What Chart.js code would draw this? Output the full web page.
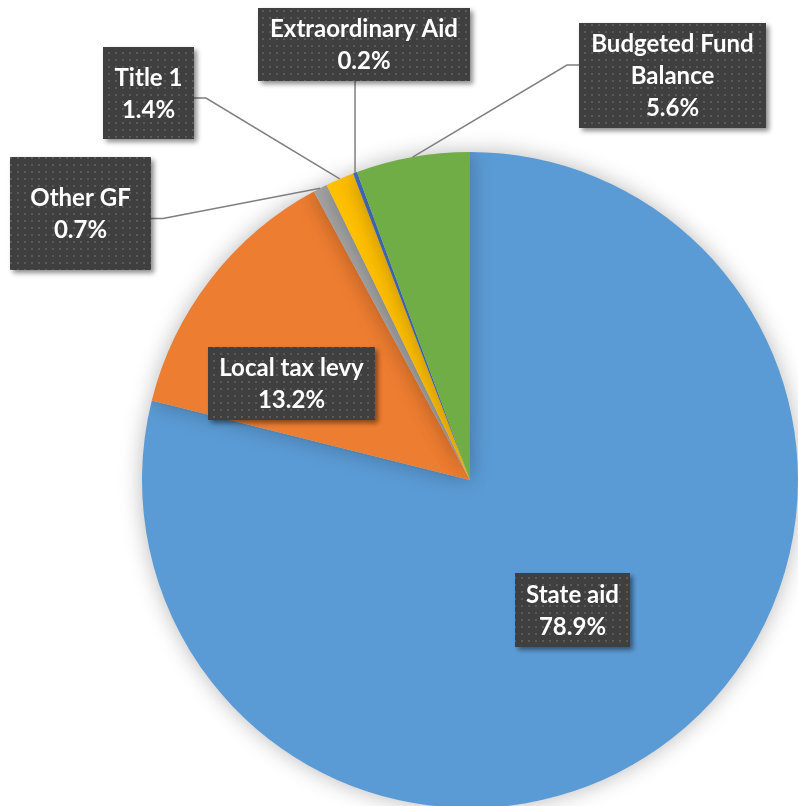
<!DOCTYPE html>
<html>
<head>
<meta charset="utf-8">
<script src="https://cdn.jsdelivr.net/npm/chart.js@4.4.1/dist/chart.umd.min.js"></script>
<style>
  html, body { margin: 0; padding: 0; background: #fff; overflow: hidden; }
  #wrap { position: relative; width: 798px; height: 812px; }
</style>
</head>
<body>
<div id="wrap"><canvas id="chart"></canvas></div>
<script>
// chart values
const categories = ['State aid', 'Local tax levy', 'Other GF', 'Title 1', 'Extraordinary Aid', 'Budgeted Fund Balance'];
const shares = [78.9, 13.2, 0.7, 1.4, 0.2, 5.6];
const sliceColors = ['#5B9BD5', '#ED7D31', '#A5A5A5', '#FFC000', '#4472C4', '#70AD47'];

// label boxes (text lines + where the box sits)
const labelLines = [
    ['State aid'],
    ['Local tax levy'],
    ['Other GF'],
    ['Title 1'],
    ['Extraordinary Aid'],
    ['Budgeted Fund', 'Balance']
];
const labelBoxes = [
    {x: 515, y: 573, w: 115, h: 74, leader: null},
    {x: 208, y: 347, w: 167, h: 73, leader: null},
    {x: 10,  y: 157, w: 141, h: 113, leader: 'right'},
    {x: 103, y: 47,  w: 91,  h: 92,  leader: 'right'},
    {x: 258, y: 8,   w: 212, h: 73,  leader: 'bottom'},
    {x: 579, y: 23,  w: 187, h: 105, leader: 'left'}
];

function makePattern(ctx) {
    const p = document.createElement('canvas');
    p.width = 7; p.height = 7;
    const c = p.getContext('2d');
    c.fillStyle = '#3f3f3f';
    c.fillRect(0, 0, 7, 7);
    c.fillStyle = '#5a5a5a';
    c.fillRect(3, 3, 2, 2);
    return ctx.createPattern(p, 'repeat');
}

const shadowPlugin = {
    id: 'pieShadow',
    beforeDatasetsDraw(chart) {
        const ctx = chart.ctx;
        ctx.save();
        ctx.shadowColor = 'rgba(0,0,0,0.28)';
        ctx.shadowBlur = 22;
    },
    afterDatasetsDraw(chart) {
        chart.ctx.restore();
    }
};

const boxLabels = {
    id: 'boxLabels',
    afterDraw(chart) {
        const ctx = chart.ctx;
        const arcs = chart.getDatasetMeta(0).data;
        const pattern = makePattern(ctx);

        // leader lines
        ctx.save();
        ctx.strokeStyle = '#7f7f7f';
        ctx.lineWidth = 1.5;
        arcs.forEach(function(a, i) {
            const b = labelBoxes[i];
            if (!b.leader) return;
            const mid = (a.startAngle + a.endAngle) / 2;
            const px = a.x + Math.cos(mid) * a.outerRadius;
            const py = a.y + Math.sin(mid) * a.outerRadius;
            ctx.beginPath();
            if (b.leader === 'right') {
                const ay = b.y + b.h / 2 + 5;
                ctx.moveTo(b.x + b.w, ay);
                ctx.lineTo(b.x + b.w + 12, ay);
                ctx.lineTo(px, py);
            } else if (b.leader === 'left') {
                const ay = b.y + 42;
                ctx.moveTo(b.x, ay);
                ctx.lineTo(b.x - 12, ay);
                ctx.lineTo(px, py);
            } else {
                ctx.moveTo(px, b.y + b.h);
                ctx.lineTo(px, py);
            }
            ctx.stroke();
        });
        ctx.restore();

        // boxes + text
        arcs.forEach(function(a, i) {
            const b = labelBoxes[i];
            ctx.save();
            ctx.shadowColor = 'rgba(0,0,0,0.45)';
            ctx.shadowBlur = 5;
            ctx.shadowOffsetX = 3;
            ctx.shadowOffsetY = 3;
            ctx.fillStyle = pattern;
            ctx.fillRect(b.x, b.y, b.w, b.h);
            ctx.restore();

            const lines = labelLines[i].concat([shares[i].toFixed(1) + '%']);
            ctx.save();
            ctx.fillStyle = '#ffffff';
            ctx.font = 'bold 24px Lato';
            ctx.textAlign = 'center';
            ctx.textBaseline = 'middle';
            const lh = 32;
            const cy = b.y + b.h / 2 + 1;
            const top = cy - (lines.length - 1) * lh / 2;
            lines.forEach(function(t, k) {
                ctx.fillText(t, b.x + b.w / 2, top + k * lh);
            });
            ctx.restore();
        });
    }
};

new Chart(document.getElementById('chart'), {
    type: 'pie',
    data: {
        labels: categories,
        datasets: [{
            data: shares,
            backgroundColor: sliceColors,
            borderWidth: 0
        }]
    },
    options: {
        responsive: true,
        maintainAspectRatio: false,
        animation: false,
        layout: { padding: { left: 142, top: 152, right: 0, bottom: 4 } },
        plugins: {
            legend: { display: false },
            tooltip: { enabled: false }
        }
    },
    plugins: [shadowPlugin, boxLabels]
});
</script>
</body>
</html>
